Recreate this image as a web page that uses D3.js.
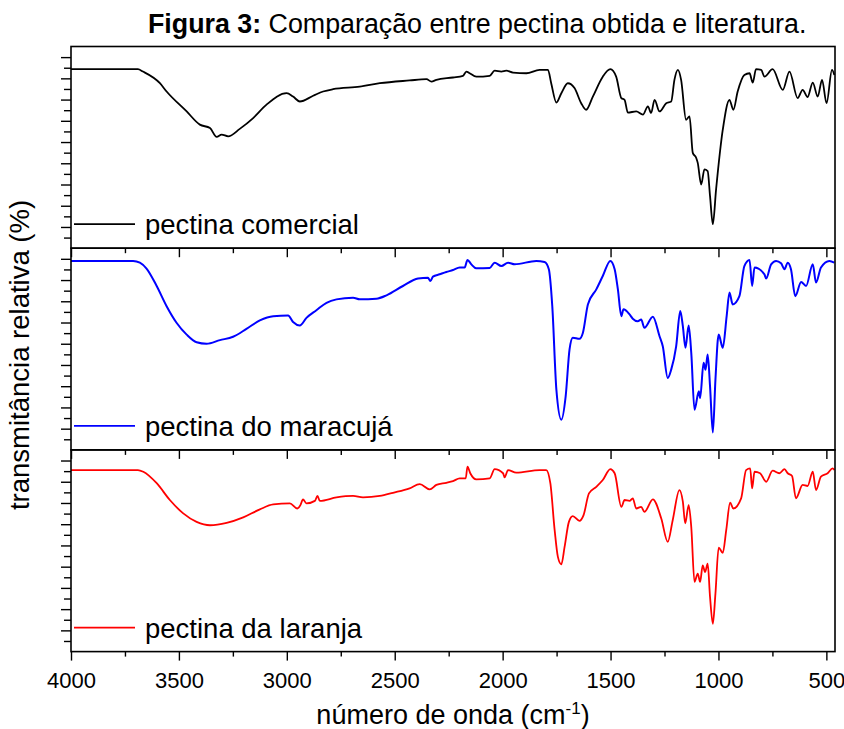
<!DOCTYPE html>
<html>
<head>
<meta charset="utf-8">
<script src="https://cdn.jsdelivr.net/npm/d3@7/dist/d3.min.js"></script>
<style>
  body { margin: 0; background: #fff; }
  svg { display: block; font-family: "Liberation Sans", Arial, sans-serif; }
</style>
</head>
<body>
<div id="chart"></div>
<script>
// spectra: [wavenumber (cm-1), relative transmittance]
var comercial = [[4000,84.3],[3690,84.3],[3667,83.2],[3588,77.7],[3557,73.8],[3464,64.4],[3403,58.2],[3356,56.6],[3325,52.4],[3302,53.5],[3272,52.7],[3218,56.2],[3156,61.3],[3094,67.6],[3001,73.0],[2971,71.4],[2940,69.1],[2878,71.8],[2832,73.8],[2786,74.9],[2662,76.1],[2569,77.7],[2431,79.0],[2353,79.6],[2330,78.5],[2307,79.3],[2230,80.4],[2184,81.2],[2168,83.2],[2153,82.4],[2122,80.8],[2060,81.2],[2037,83.6],[2006,83.2],[1983,83.6],[1952,82.7],[1890,82.4],[1829,84.0],[1790,84.0],[1775,77.7],[1751,68.6],[1728,73.0],[1698,77.7],[1667,75.4],[1636,68.3],[1613,65.2],[1582,71.4],[1536,80.8],[1501,84.3],[1474,80.8],[1450,70.7],[1435,69.9],[1420,63.9],[1381,64.4],[1350,62.9],[1327,66.8],[1312,63.7],[1296,69.9],[1273,64.4],[1242,68.3],[1219,69.1],[1204,79.3],[1188,84.0],[1173,79.3],[1150,60.5],[1134,62.1],[1119,44.9],[1103,42.5],[1096,40.2],[1080,30.0],[1065,37.1],[1050,36.3],[1039,24.5],[1026,11.3],[1011,27.7],[980,55.8],[949,69.9],[931,65.2],[911,73.8],[880,81.6],[856,82.4],[841,78.0],[826,84.3],[802,84.0],[787,80.8],[749,84.3],[702,74.6],[671,83.2],[633,70.7],[610,74.6],[587,71.2],[563,78.0],[540,71.4],[520,79.3],[499,68.3],[474,84.0],[463,81.6]];

var maracuja = [[4000,89.0],[3712,89.0],[3681,88.2],[3650,85.4],[3603,77.2],[3557,67.7],[3511,59.9],[3464,54.3],[3418,50.7],[3372,50.0],[3310,51.7],[3249,53.3],[3187,57.0],[3125,61.0],[3063,63.0],[2994,63.3],[2971,60.2],[2940,58.6],[2909,62.2],[2863,65.8],[2816,69.3],[2770,70.9],[2693,71.7],[2662,70.9],[2585,71.2],[2538,72.8],[2462,77.2],[2392,80.7],[2346,81.1],[2335,79.5],[2323,81.6],[2292,82.7],[2261,83.8],[2230,84.7],[2199,85.9],[2176,85.9],[2163,89.5],[2145,87.4],[2122,85.5],[2060,85.7],[2037,88.2],[2006,86.6],[1975,88.2],[1944,87.4],[1844,89.0],[1806,88.5],[1786,85.1],[1770,67.7],[1751,28.4],[1728,14.2],[1708,25.2],[1690,47.3],[1675,52.8],[1644,52.3],[1628,55.2],[1605,68.5],[1566,75.6],[1536,81.9],[1501,89.0],[1481,85.1],[1466,75.6],[1450,63.0],[1440,66.2],[1412,63.8],[1397,61.8],[1374,60.6],[1358,61.4],[1343,57.5],[1304,62.7],[1273,53.5],[1258,48.8],[1235,33.9],[1219,37.8],[1196,48.8],[1177,65.4],[1165,58.3],[1153,48.1],[1138,58.6],[1126,45.7],[1111,18.9],[1091,27.6],[1085,24.4],[1069,41.0],[1060,37.8],[1050,44.9],[1039,29.9],[1026,8.2],[1014,33.1],[999,54.3],[980,48.1],[962,63.0],[949,74.1],[934,68.5],[903,72.4],[880,86.6],[856,89.5],[844,77.2],[833,85.9],[787,82.7],[779,80.7],[756,87.4],[733,89.0],[710,87.9],[694,85.1],[679,88.2],[664,85.1],[644,72.4],[617,79.1],[594,77.2],[563,87.4],[548,78.8],[525,85.9],[486,89.0],[463,88.2]];

var laranja = [[4000,85.5],[3690,85.5],[3665,84.7],[3603,79.3],[3542,71.4],[3480,65.1],[3418,61.1],[3356,59.5],[3279,60.6],[3202,63.2],[3125,67.0],[3063,69.3],[2986,69.8],[2952,67.4],[2937,69.0],[2925,71.7],[2909,69.8],[2870,71.0],[2858,73.3],[2847,71.0],[2770,72.6],[2693,73.3],[2647,72.6],[2569,73.3],[2508,74.8],[2431,76.9],[2384,78.9],[2338,76.4],[2307,78.5],[2261,79.5],[2230,80.3],[2199,81.6],[2171,81.6],[2163,87.1],[2150,84.0],[2122,81.1],[2060,81.6],[2037,85.9],[1998,84.0],[1991,82.1],[1975,85.5],[1937,84.3],[1829,85.5],[1798,85.5],[1779,79.3],[1759,57.2],[1744,44.6],[1728,41.1],[1713,49.3],[1693,61.1],[1675,63.8],[1644,61.6],[1625,64.3],[1600,74.5],[1566,77.6],[1536,80.8],[1501,85.9],[1481,84.0],[1450,68.2],[1435,71.4],[1412,71.0],[1397,72.2],[1381,67.4],[1358,68.2],[1343,65.8],[1304,71.7],[1265,62.7],[1235,51.7],[1212,61.9],[1181,76.1],[1165,70.6],[1154,60.4],[1138,69.0],[1126,58.7],[1111,32.8],[1096,36.7],[1085,32.8],[1073,40.6],[1062,37.5],[1050,41.4],[1039,25.7],[1026,13.1],[1014,27.3],[999,49.0],[980,46.5],[964,57.2],[946,70.1],[931,67.4],[895,72.2],[872,85.5],[853,86.3],[844,76.9],[833,84.7],[807,84.0],[779,80.0],[749,85.2],[718,84.0],[694,85.9],[679,84.0],[659,82.7],[641,72.2],[610,78.5],[587,78.0],[563,84.7],[548,76.1],[525,82.4],[494,84.0],[471,86.3],[463,85.5]];

var seriesNames = ["pectina comercial", "pectina do maracujá", "pectina da laranja"];
var seriesColors = ["#000000", "#0000ff", "#ff0000"];
var xMajor = [4000, 3500, 3000, 2500, 2000, 1500, 1000, 500];
var xMinor = [3750, 3250, 2750, 2250, 1750, 1250, 750];
var yMajor = [10, 20, 30, 40, 50, 60, 70, 80, 90];
var yMinor = [5, 15, 25, 35, 45, 55, 65, 75, 85];

var W = 844, H = 729;
var left = 71, right = 835, top0 = 46.5, panelH = 201.7;

var svg = d3.select("#chart")
    .append("svg")
        .attr("width", W)
        .attr("height", H);

var x = d3.scaleLinear().domain([4000, 460]).range([left, right]);

var series = [comercial, maracuja, laranja];

series.forEach(function(data, i) {
    var top = top0 + i * panelH,
        bottom = top + panelH;
    var y = d3.scaleLinear().domain([0, 95]).range([bottom, top]);
    var g = svg.append("g");

    // left ticks (outward)
    g.append("g")
        .attr("transform", "translate(" + left + ",0)")
        .call(d3.axisLeft(y).tickValues(yMajor).tickSize(10).tickFormat(""))
        .call(s => s.select(".domain").remove());
    g.append("g")
        .attr("transform", "translate(" + left + ",0)")
        .call(d3.axisLeft(y).tickValues(yMinor).tickSize(7).tickFormat(""))
        .call(s => s.select(".domain").remove());

    // bottom ticks
    var xa = g.append("g")
        .attr("transform", "translate(0," + bottom + ")")
        .call(d3.axisBottom(x).tickValues(xMajor).tickSize(9).tickPadding(12)
            .tickFormat(i == 2 ? d3.format("d") : ""));
    xa.select(".domain").remove();
    g.append("g")
        .attr("transform", "translate(0," + bottom + ")")
        .call(d3.axisBottom(x).tickValues(xMinor).tickSize(5).tickFormat(""))
        .call(s => s.select(".domain").remove());
    xa.selectAll("text")
        .attr("font-size", 22)
        .attr("font-family", "'Liberation Sans', Arial, sans-serif")
        .attr("fill", "#000");

    svg.selectAll(".tick line").attr("stroke", "#000").attr("stroke-width", 1.4);

    // the spectrum
    var line = d3.line()
        .x(d => x(d[0]))
        .y(d => y(d[1]))
        .curve(d3.curveMonotoneX);
    g.append("path")
        .datum(data)
        .attr("fill", "none")
        .attr("stroke", seriesColors[i])
        .attr("stroke-width", i == 1 ? 2 : 1.8)
        .attr("stroke-linejoin", "round")
        .attr("d", line);

    // frame
    g.append("rect")
        .attr("x", left)
        .attr("y", top)
        .attr("width", right - left)
        .attr("height", panelH)
        .attr("fill", "none")
        .attr("stroke", "#000")
        .attr("stroke-width", 1.6);

    // legend
    var ly = bottom - 24;
    g.append("line")
        .attr("x1", 74).attr("x2", 135)
        .attr("y1", ly).attr("y2", ly)
        .attr("stroke", seriesColors[i])
        .attr("stroke-width", 1.8);
    g.append("text")
        .attr("x", 145)
        .attr("y", ly)
        .attr("dy", "0.36em")
        .attr("font-size", 27.5)
        .text(seriesNames[i]);
});

// title
var title = svg.append("text")
    .attr("x", 148)
    .attr("y", 33)
    .attr("font-size", 26.8);
title.append("tspan").attr("font-weight", "bold").text("Figura 3:");
title.append("tspan").text(" Comparação entre pectina obtida e literatura.");

// x axis title
var xt = svg.append("text")
    .attr("x", 453)
    .attr("y", 724)
    .attr("text-anchor", "middle")
    .attr("font-size", 27);
xt.append("tspan").text("número de onda (cm");
xt.append("tspan").attr("font-size", 17).attr("dy", -10).text("-1");
xt.append("tspan").attr("dy", 10).text(")");

// y axis title
svg.append("text")
    .attr("transform", "translate(29,355) rotate(-90)")
    .attr("text-anchor", "middle")
    .attr("font-size", 27.5)
    .text("transmitância relativa (%)");
</script>
</body>
</html>
